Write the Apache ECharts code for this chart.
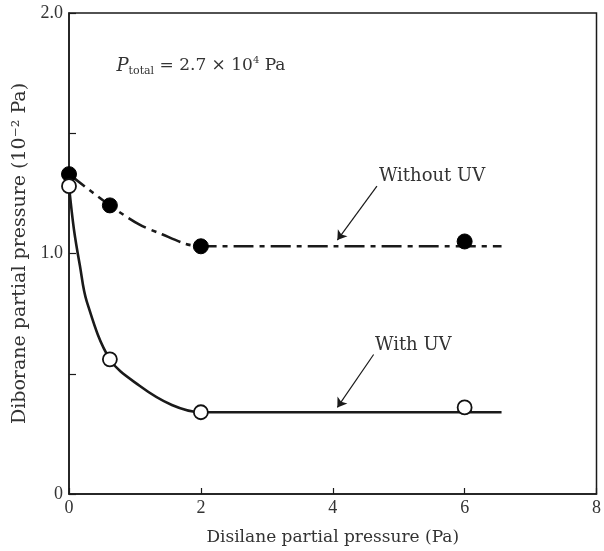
<!DOCTYPE html>
<html>
<head>
<meta charset="utf-8">
<script src="https://cdn.jsdelivr.net/npm/echarts@6/dist/echarts.min.js"></script>
<style>
  html, body { margin: 0; padding: 0; background: #fff; }
  #chart { width: 604px; height: 551px; }
</style>
</head>
<body>
<div id="chart"></div>
<script>
// Measured points: diborane partial pressure (1e-2 Pa) vs disilane partial pressure (Pa)
const disilaneWithout = [0, 0.62, 2, 6];
const diboraneWithout = [1.33, 1.20, 1.03, 1.05];
const disilaneWith = [0, 0.62, 2, 6];
const diboraneWith = [1.28, 0.56, 0.34, 0.36];

// Hand-drawn trend curves through the data
const curveWithoutX = [0, 0.62, 1.07, 1.41, 1.77, 2.0, 4.0, 6.56];
const curveWithoutY = [1.33, 1.20, 1.12, 1.08, 1.04, 1.03, 1.03, 1.03];
const curveWithX = [0, 0.075, 0.165, 0.27, 0.62, 1.07, 1.56, 2.0, 4.0, 6.56];
const curveWithY = [1.28, 1.10, 0.95, 0.80, 0.56, 0.45, 0.37, 0.34, 0.34, 0.34];

// Axis ticks
const xTicks = [0, 2, 4, 6, 8];
const yLabels = { 0: '0', 1: '1.0', 2: '2.0' };

const ink = '#1a1a1a';
const txt = '#333';
const serif = '"DejaVu Serif", "Liberation Serif", serif';
const numFont = '"Liberation Serif", "DejaVu Serif", serif';

const pairs = (xs, ys) => xs.map((x, i) => [x, ys[i]]);

const chart = echarts.init(document.getElementById('chart'), null, { renderer: 'canvas' });

chart.setOption({
  animation: false,
  backgroundColor: '#fff',
  textStyle: { fontFamily: serif, color: txt },
  grid: {
    left: 69, right: 3, top: 13, bottom: 52,
    show: true, borderColor: ink, borderWidth: 1.5, backgroundColor: 'transparent'
  },
  xAxis: {
    type: 'value', min: 0, max: 8, interval: 2,
    name: 'Disilane partial pressure (Pa)',
    nameLocation: 'middle', nameGap: 35,
    nameTextStyle: { fontFamily: serif, fontSize: 17, color: txt },
    axisLine: { lineStyle: { color: ink, width: 1.5 } },
    axisTick: { inside: true, length: 6, lineStyle: { color: ink, width: 1.2 } },
    axisLabel: { fontFamily: numFont, fontSize: 18, color: txt, margin: 5,
      formatter: v => xTicks.includes(v) ? String(v) : '' },
    splitLine: { show: false }
  },
  yAxis: {
    type: 'value', min: 0, max: 2, interval: 0.5,
    name: 'Diborane partial pressure (10\u207B\u00B2 Pa)',
    nameLocation: 'middle', nameGap: 38, nameRotate: 90,
    nameTextStyle: { fontFamily: serif, fontSize: 19, color: txt },
    axisLine: { lineStyle: { color: ink, width: 1.5 } },
    axisTick: { inside: true, length: 7, lineStyle: { color: ink, width: 1.2 } },
    axisLabel: { fontFamily: numFont, fontSize: 18, color: txt, margin: 6,
      formatter: v => yLabels[v] !== undefined ? yLabels[v] : '' },
    splitLine: { show: false }
  },
  series: [
    {
      name: 'Without UV curve', type: 'line',
      data: pairs(curveWithoutX, curveWithoutY),
      smooth: 0.3, symbol: 'none',
      lineStyle: { color: ink, width: 2.6, type: [20, 6, 5, 6] },
      z: 2
    },
    {
      name: 'With UV curve', type: 'line',
      data: pairs(curveWithX, curveWithY),
      smooth: 0.35, symbol: 'none',
      lineStyle: { color: ink, width: 2.6 },
      z: 2
    },
    {
      name: 'Without UV', type: 'scatter',
      data: pairs(disilaneWithout, diboraneWithout),
      symbol: 'circle', symbolSize: 15,
      itemStyle: { color: '#000', borderColor: '#000', borderWidth: 1, opacity: 1 },
      z: 4
    },
    {
      name: 'With UV', type: 'scatter',
      data: pairs(disilaneWith, diboraneWith),
      symbol: 'circle', symbolSize: 14,
      itemStyle: { color: '#fff', borderColor: '#111', borderWidth: 1.8, opacity: 1 },
      z: 5
    },
    {
      // Leader arrows pointing from the labels to the curves
      name: 'leaders', type: 'line', data: [], silent: true,
      markLine: {
        silent: true, animation: false,
        symbol: ['none', 'arrow'], symbolSize: 9,
        lineStyle: { color: ink, width: 1.2, type: 'solid' },
        label: { show: false },
        data: [
          [{ coord: [4.67, 1.28] }, { coord: [4.07, 1.056] }],
          [{ coord: [4.62, 0.58] }, { coord: [4.07, 0.36] }]
        ]
      }
    }
  ]
});

// Text annotations placed in data coordinates
function place(coord) { return chart.convertToPixel({ gridIndex: 0 }, coord); }
const pTot = place([0.72, 1.78]);
const labWithout = place([4.7, 1.32]);
const labWith = place([4.64, 0.62]);

chart.setOption({
  graphic: [
    {
      type: 'text', x: pTot[0], y: pTot[1],
      style: {
        text: '{it|P}{sub|total}{n| = 2.7 \u00D7 10}{sup|4}{n| Pa}',
        verticalAlign: 'middle', align: 'left',
        rich: {
          it: { fontFamily: serif, fontStyle: 'italic', fontSize: 18, fill: txt },
          sub: { fontFamily: serif, fontSize: 11, fill: txt, verticalAlign: 'bottom', padding: [10, 0, 0, 0] },
          n: { fontFamily: serif, fontSize: 17, fill: txt },
          sup: { fontFamily: serif, fontSize: 10, fill: txt, verticalAlign: 'top', padding: [0, 0, 8, 0] }
        }
      }
    },
    {
      type: 'text', x: labWithout[0], y: labWithout[1],
      style: { text: 'Without UV', font: '18px ' + serif, fill: txt, verticalAlign: 'middle', align: 'left' }
    },
    {
      type: 'text', x: labWith[0], y: labWith[1],
      style: { text: 'With UV', font: '18px ' + serif, fill: txt, verticalAlign: 'middle', align: 'left' }
    }
  ]
});
</script>
</body>
</html>
